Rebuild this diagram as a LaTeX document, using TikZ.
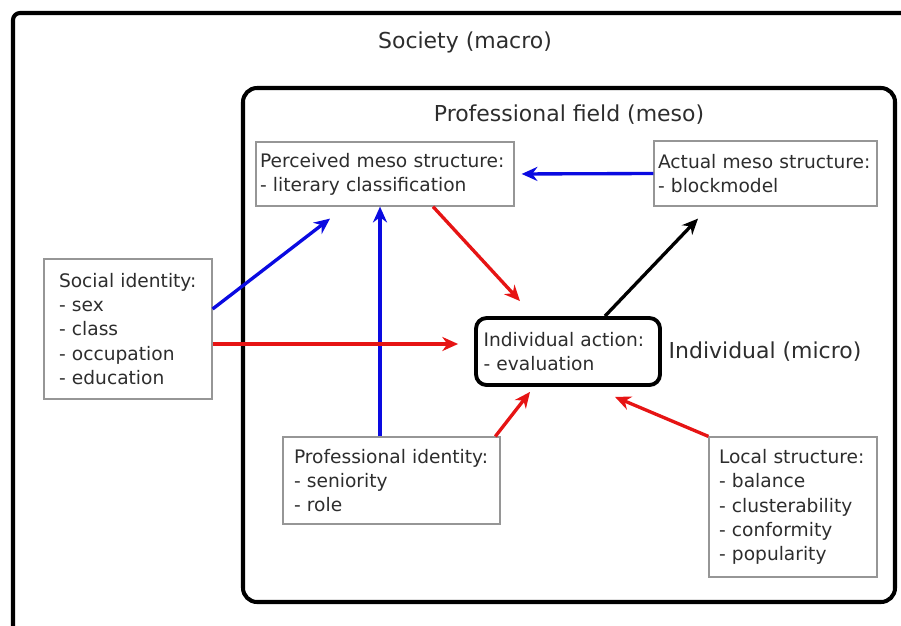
\documentclass[tikz,border=0pt]{standalone}
\usepackage{fontspec}
\setmainfont{DejaVu Sans}
\usepackage{tikz}
\usetikzlibrary{arrows.meta}
\usetikzlibrary{calc}

\definecolor{boxgray}{RGB}{150,150,150}
\definecolor{txtgray}{RGB}{45,45,45}
\definecolor{arrblue}{RGB}{10,10,225}
\definecolor{arrred}{RGB}{230,20,20}

\begin{document}
\begin{tikzpicture}[x=0.02cm,y=-0.02cm,>={Stealth[length=9pt,width=8pt]},
	box/.style={draw=boxgray,line width=0.7pt,align=left,text=txtgray,
		font=\fontsize{10.6}{13.8}\selectfont,inner ysep=0pt},
	level/.style={text=txtgray,font=\fontsize{12.5}{14}\selectfont},
	arr/.style={->,line width=1.9pt}]
	\useasboundingbox (0,0) rectangle (901,625);
	\draw[line width=2.3pt,rounded corners=4pt] (13,640)--(13,13)--(915,13);
	\draw[line width=2.3pt,rounded corners=8pt] (243,88) rectangle (895,602);
	\node[level] (society) at (465,42) {Society (macro)};
	\node[level] (meso) at (569,115) {Professional field (meso)};
	\node[level] (micro) at (765,352) {Individual (micro)};
	\node[box,text width=5cm,inner xsep=0.08cm,minimum height=1.28cm] (perc) at (385,174)
		{Perceived meso structure:\\- literary classification};
	\node[box,text width=4.3cm,inner xsep=0.08cm,minimum height=1.3cm] (actual) at (765.5,173.5)
		{Actual meso structure:\\- blockmodel};
	\node[box,text width=2.76cm,inner xsep=0.3cm,minimum height=2.8cm] (social) at (128,329)
		{Social identity:\\- sex\\- class\\- occupation\\- education};
	\node[box,draw=black,line width=2.2pt,rounded corners=6pt,text width=3.38cm,inner xsep=0.15cm,
		minimum height=1.34cm] (indiv) at (568,351.5) {Individual action:\\- evaluation};
	\node[box,text width=3.9cm,inner xsep=0.22cm,minimum height=1.74cm] (profid) at (391.5,480.5)
		{Professional identity:\\- seniority\\- role};
	\node[box,text width=2.96cm,inner xsep=0.2cm,minimum height=2.8cm] (local) at (793,507)
		{Local structure:\\- balance\\- clusterability\\- conformity\\- popularity};

	\draw[arr,arrblue,shorten >=4pt] (actual.west)--(perc.east);
	\draw[arr,arrblue] ([yshift=0.4cm]social.east)--([xshift=-1.1cm,yshift=-0.24cm]perc.south);
	\draw[arr,arrblue] ([xshift=-0.23cm]profid.north)--([xshift=-0.23cm]profid.north |- perc.south);
	\draw[arr,arrred] ([xshift=0.96cm]perc.south)--([xshift=-0.96cm,yshift=0.3cm]indiv.north);
	\draw[arr,black] ([xshift=0.74cm]indiv.north)--([xshift=-1.35cm,yshift=-0.24cm]actual.south);
	\draw[arr,arrred,shorten >=0.32cm] ([yshift=-0.3cm]social.east) coordinate (s)--(s -| indiv.west);
	\draw[arr,arrred] ([xshift=-3pt]profid.north east)--([xshift=-0.76cm,yshift=-0.1cm]indiv.south);
	\draw[arr,arrred] (local.north west)--([xshift=0.94cm,yshift=-0.2cm]indiv.south);
\end{tikzpicture}
\end{document}
